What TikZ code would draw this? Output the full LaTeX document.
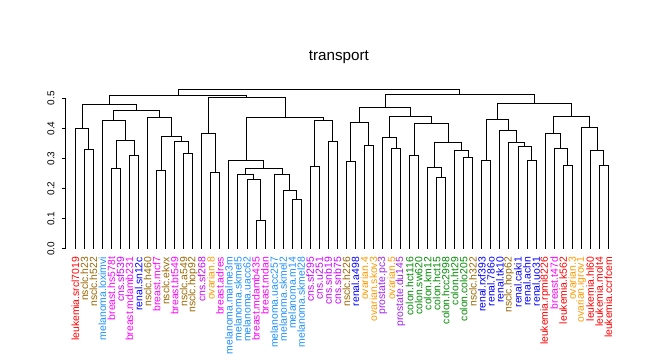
\documentclass[tikz,border=0pt]{standalone}
\usepackage{fontspec}
\setmainfont{Liberation Sans}
\usetikzlibrary{calc}
\definecolor{leuk}{HTML}{FF0000}
\definecolor{nsclc}{HTML}{996600}
\definecolor{mel}{HTML}{1E90FF}
\definecolor{breast}{HTML}{FF00FF}
\definecolor{cns}{HTML}{CC00FF}
\definecolor{renal}{HTML}{0000FF}
\definecolor{ovar}{HTML}{FF9900}
\definecolor{prost}{HTML}{A020F0}
\definecolor{colon}{HTML}{008B00}
\tikzset{
  dend/.style={line width=0.9pt, black},
  leaflab/.style={rotate=90, anchor=east, inner sep=0pt, font=\fontsize{10.4}{12}\selectfont},
  ticklab/.style={rotate=90, anchor=center, inner sep=0pt, font=\fontsize{10}{12}\selectfont},
  titlelab/.style={anchor=base, inner sep=0pt, font=\fontsize{15.2}{17}\selectfont}
}
\newcommand\dmerge[4]{%
  \coordinate (tmp) at ($(#2)!0.5!(#3)$);
  \coordinate (hh) at (0,#4);
  \coordinate (#1) at (tmp |- hh);
  \draw[dend] (#2) |- (#1) -| (#3);
}
\begin{document}
\begin{tikzpicture}[x=1pt,y=-1pt]
\useasboundingbox (0,0) rectangle (647,360);
\node[titlelab] (title) at (338.8,60.5) {transport};
\begin{scope}[shift={(0,248.7)}, y=300.8pt]
  % axis
  \coordinate (ax0) at (65.7,0);
  \coordinate (ax5) at (65.7,0.5);
  \draw[dend] (ax0) -- (ax5);
  \foreach \t/\s [count=\k] in {0/0.0,0.1/0.1,0.2/0.2,0.3/0.3,0.4/0.4,0.5/0.5}{
    \coordinate (tk\k) at (65.7,\t);
    \coordinate (tl\k) at (62,\t);
    \draw[dend] (tk\k) -- (tl\k);
    \node[ticklab] (tn\k) at (51,\t) {\s};
  }
  % leaves
  \foreach \lab/\col [count=\i] in {
    leukemia.srcl7019/leuk, nsclc.h23/nsclc, nsclc.h522/nsclc, melanoma.loximvi/mel,
    breast.hs578t/breast, cns.sf539/cns, breast.mdamb231/breast, renal.sn12c/renal,
    nsclc.h460/nsclc, breast.mcf7/breast, nsclc.ekvx/nsclc, breast.bt549/breast,
    nsclc.a549/nsclc, nsclc.hop92/nsclc, cns.sf268/cns, ovarian.8/ovar,
    breast.adres/breast, melanoma.malme3m/mel, melanoma.skmel5/mel, melanoma.uacc62/mel,
    breast.mdamb435/breast, breast.mdan/breast, melanoma.uacc257/mel, melanoma.skmel2/mel,
    melanoma.m14/mel, melanoma.skmel28/mel, cns.sf295/cns, cns.u251/cns,
    cns.snb19/cns, cns.snb75/cns, nsclc.h226/nsclc, renal.a498/renal,
    ovarian.4/ovar, ovarian.skov3/ovar, prostate.pc3/prost, ovarian.5/ovar,
    prostate.du145/prost, colon.hct116/colon, colon.sw620/colon, colon.km12/colon,
    colon.hct15/colon, colon.hcc2998/colon, colon.ht29/colon, colon.colo205/colon,
    nsclc.h322/nsclc, renal.rxf393/renal, renal.786o/renal, renal.tk10/renal,
    nsclc.hop62/nsclc, renal.caki1/renal, renal.achn/renal, renal.uo31/renal,
    leukemia.rpmi8226/leuk, breast.t47d/breast, leukemia.k562/leuk, ovarian.3/ovar,
    ovarian.igrov1/ovar, leukemia.hl60/leuk, leukemia.molt4/leuk, leukemia.ccrfcem/leuk}{
    \coordinate (L\i) at ({75.3+9.034*(\i-1)},0);
    \node[leaflab, text=\col] (n\i) at ($(L\i)+(0pt,-8.1pt)$) {\lab};
  }
  % group A
  \dmerge{a1}{L2}{L3}{0.33}
  \dmerge{a2}{L1}{a1}{0.399}
  % group B
  \dmerge{b1}{L5}{L6}{0.267}
  \dmerge{b2}{L7}{L8}{0.31}
  \dmerge{b3}{b1}{b2}{0.36}
  \dmerge{b4}{L4}{b3}{0.427}
  % group C
  \dmerge{c1}{L10}{L11}{0.261}
  \dmerge{c2}{L13}{L14}{0.317}
  \dmerge{c3}{L12}{c2}{0.357}
  \dmerge{c4}{c1}{c3}{0.373}
  \dmerge{c5}{L9}{c4}{0.437}
  \dmerge{bc}{b4}{c5}{0.46}
  \dmerge{abc}{a2}{bc}{0.48}
  % group D
  \dmerge{d1}{L16}{L17}{0.253}
  \dmerge{d2}{L15}{d1}{0.383}
  % group E
  \dmerge{e1}{L21}{L22}{0.093}
  \dmerge{e2}{L20}{e1}{0.23}
  \dmerge{e3}{L19}{e2}{0.247}
  \dmerge{e4}{L25}{L26}{0.163}
  \dmerge{e5}{L24}{e4}{0.193}
  \dmerge{e6}{L23}{e5}{0.247}
  \dmerge{e7}{e3}{e6}{0.267}
  \dmerge{e8}{L18}{e7}{0.293}
  % group F
  \dmerge{f1}{L27}{L28}{0.273}
  \dmerge{f2}{L29}{L30}{0.357}
  \dmerge{f3}{f1}{f2}{0.427}
  \dmerge{ef}{e8}{f3}{0.437}
  \dmerge{def}{d2}{ef}{0.503}
  \dmerge{left}{abc}{def}{0.509}
  % group G
  \dmerge{g1}{L31}{L32}{0.291}
  \dmerge{g2}{L33}{L34}{0.343}
  \dmerge{g3}{g1}{g2}{0.42}
  % group H
  \dmerge{h1}{L36}{L37}{0.333}
  \dmerge{h2}{L35}{h1}{0.37}
  % group I
  \dmerge{i1}{L38}{L39}{0.31}
  \dmerge{i2}{L41}{L42}{0.237}
  \dmerge{i3}{L40}{i2}{0.27}
  \dmerge{i4}{L44}{L45}{0.303}
  \dmerge{i5}{L43}{i4}{0.327}
  \dmerge{i6}{i3}{i5}{0.353}
  \dmerge{i7}{i1}{i6}{0.417}
  \dmerge{hi}{h2}{i7}{0.44}
  \dmerge{ghi}{g3}{hi}{0.47}
  % group J
  \dmerge{j1}{L46}{L47}{0.293}
  \dmerge{j2}{L51}{L52}{0.293}
  \dmerge{j3}{L50}{j2}{0.34}
  \dmerge{j4}{L49}{j3}{0.353}
  \dmerge{j5}{L48}{j4}{0.393}
  \dmerge{j6}{j1}{j5}{0.43}
  % group K
  \dmerge{k1}{L55}{L56}{0.277}
  \dmerge{k2}{L54}{k1}{0.333}
  \dmerge{k3}{L53}{k2}{0.383}
  \dmerge{k4}{L59}{L60}{0.277}
  \dmerge{k5}{L58}{k4}{0.327}
  \dmerge{k6}{L57}{k5}{0.403}
  \dmerge{k7}{k3}{k6}{0.44}
  \dmerge{jk}{j6}{k7}{0.483}
  \dmerge{right}{ghi}{jk}{0.513}
  \dmerge{root}{left}{right}{0.528}
\end{scope}
\end{tikzpicture}
\end{document}
